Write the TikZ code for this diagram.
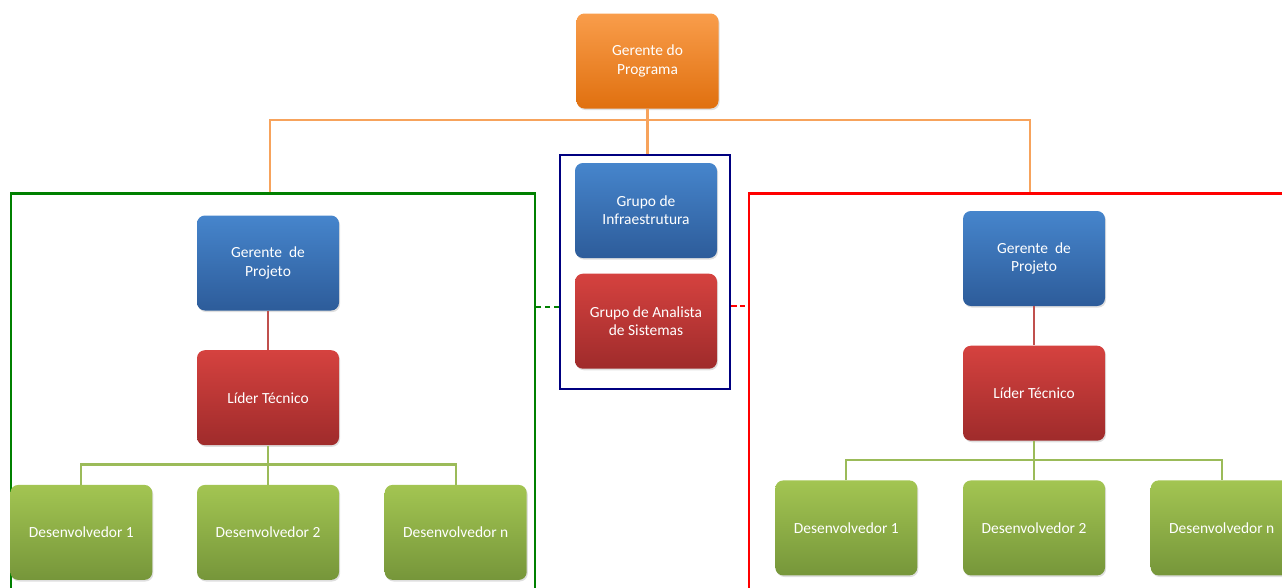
\documentclass[tikz,border=0pt]{standalone}
\usepackage{fontspec}
\setmainfont{Carlito}
\usetikzlibrary{positioning,shadows}
\definecolor{progtop}{HTML}{F99D4B}
\definecolor{progbot}{HTML}{E0700F}
\definecolor{bluetop}{HTML}{4685CC}
\definecolor{bluebot}{HTML}{2D5C9A}
\definecolor{redtop}{HTML}{D5423F}
\definecolor{redbot}{HTML}{9F2B2B}
\definecolor{greentop}{HTML}{A3C552}
\definecolor{greenbot}{HTML}{76963A}
\definecolor{progwire}{HTML}{F7A35C}
\definecolor{leadwire}{HTML}{C0504D}
\definecolor{devwire}{HTML}{9BBB59}
\definecolor{leftgreen}{HTML}{008000}
\definecolor{rightred}{HTML}{FF0000}
\definecolor{corenavy}{HTML}{000080}
\tikzset{
    orgbox/.style={rectangle,rounded corners=4.5pt,align=center,minimum width=2.84cm,minimum height=1.9cm,inner sep=2pt,text=white,font=\fontsize{8.8}{10.4}\selectfont,drop shadow={opacity=0.25,shadow xshift=0.6pt,shadow yshift=-0.9pt}},
    orgprog/.style={orgbox,top color=progtop,bottom color=progbot},
    orgblue/.style={orgbox,top color=bluetop,bottom color=bluebot},
    orgred/.style={orgbox,top color=redtop,bottom color=redbot},
    orggreen/.style={orgbox,top color=greentop,bottom color=greenbot},
    teamframe/.style={rectangle,draw,line width=1.4pt,inner sep=0pt},
    progline/.style={draw=progwire,line width=1.4pt},
    leadline/.style={draw=leadwire,line width=1.3pt},
    devline/.style={draw=devwire,line width=1.3pt},
    linkline/.style={line width=1.4pt,dashed,dash pattern=on 3pt off 2pt}
}
\begin{document}
\begin{tikzpicture}
    \path[use as bounding box,clip] (0,0) rectangle (25.64,-11.74);
    % frames
    \node[teamframe,draw=leftgreen,minimum width=10.48cm,minimum height=8.1cm] (leftteam) at (5.46,-7.92) {};
    \node[teamframe,draw=rightred,minimum width=11.1cm,minimum height=8.1cm] (rightteam) at (20.53,-7.92) {};
    \node[teamframe,draw=corenavy,minimum width=3.4cm,minimum height=4.68cm] (core) at (12.9,-5.44) {};
    % top
    \node[orgprog] (prog) at (12.95,-1.22) {Gerente do\\Programa};
    \node[orgblue] (infra) at (12.92,-4.21) {Grupo de\\Infraestrutura};
    \node[orgred,below=0.3cm of infra] (analista) {Grupo de Analista\\de Sistemas};
    % left team
    \node[orgblue] (gpL) at (5.36,-5.26) {Gerente\ \ de\\Projeto};
    \node[orgred,below=0.78cm of gpL] (ldL) {Líder Técnico};
    \node[orggreen,below=0.78cm of ldL] (d2L) {Desenvolvedor 2};
    \node[orggreen,left=0.88cm of d2L] (d1L) {Desenvolvedor 1};
    \node[orggreen,right=0.9cm of d2L] (dnL) {Desenvolvedor n};
    % right team
    \node[orgblue] (gpR) at (20.68,-5.17) {Gerente\ \ de\\Projeto};
    \node[orgred,below=0.78cm of gpR] (ldR) {Líder Técnico};
    \node[orggreen,below=0.78cm of ldR] (d2R) {Desenvolvedor 2};
    \node[orggreen,left=0.9cm of d2R] (d1R) {Desenvolvedor 1};
    \node[orggreen,right=0.9cm of d2R] (dnR) {Desenvolvedor n};
    % wires
    \draw[progline] (prog.south) -- (prog.south |- core.north);
    \draw[progline] ([xshift=0.04cm]gpL |- leftteam.north) |- ([yshift=-0.22cm]prog.south) -| ([xshift=-0.08cm]gpR |- rightteam.north);
    \draw[leadline] (gpL) -- (ldL);
    \draw[leadline] (gpR) -- (ldR);
    \foreach \side in {L,R}{
        \draw[devline] (ld\side.south) -- (d2\side.north);
        \draw[devline] (d1\side.north) |- ([yshift=-0.38cm]ld\side.south) -| (dn\side.north);
    }
    \draw[linkline,draw=leftgreen] ([yshift=-0.7cm]core.west) -- ([yshift=-0.7cm]core.west -| leftteam.east);
    \draw[linkline,draw=rightred] ([yshift=-0.68cm]core.east) -- ([yshift=-0.68cm]core.east -| rightteam.west);
\end{tikzpicture}
\end{document}
